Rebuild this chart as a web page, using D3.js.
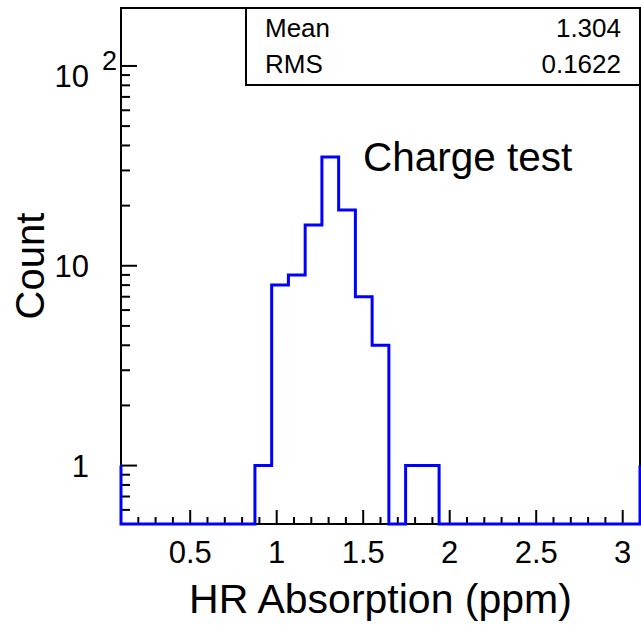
<!DOCTYPE html>
<html>
<head>
<meta charset="utf-8">
<script src="https://cdn.jsdelivr.net/npm/d3@7"></script>
<style>
  body { margin: 0; background: #fff; }
  svg text { font-family: "Liberation Sans", Arial, Helvetica, sans-serif; fill: #000; }
</style>
</head>
<body>
<svg id="chart" width="641" height="627"></svg>
<script>
// histogram: 31 bins from 0.1 to 3.1
var xMin = 0.1;
var xMax = 3.1;
var counts = [0, 0, 0, 0, 0, 0, 0, 0,
              1, 8, 9, 16, 35, 19, 7, 4, 0, 1, 1,
              0, 0, 0, 0, 0, 0, 0, 0, 0, 0, 0, 0];
var edgeLevel = 1;   // the outline starts and ends at this height

// y axis limits (log)
var yMin = 0.51;
var yMax = 195;

var xMajorTicks = [0.5, 1, 1.5, 2, 2.5, 3];
var xTickLabels = ["0.5", "1", "1.5", "2", "2.5", "3"];
var yMajorTicks = [1, 10, 100];

var statLabels = ["Mean", "RMS"];
var statValues = ["1.304", "0.1622"];

var xTitle = "HR Absorption (ppm)";
var yTitle = "Count";
var note = "Charge test";

var frame = { left: 121, top: 8, right: 640, bottom: 524 };

var svg = d3.select("#chart");

var x = d3.scaleLinear().domain([xMin, xMax]).range([frame.left, frame.right]);
var y = d3.scaleLog().domain([yMin, yMax]).range([frame.bottom, frame.top]);

// frame
svg.append("rect")
	.attr("x", frame.left).attr("y", frame.top)
	.attr("width", frame.right - frame.left)
	.attr("height", frame.bottom - frame.top)
	.attr("fill", "none").attr("stroke", "#000").attr("stroke-width", 2);

// x ticks, pointing inward
var xMinor = d3.range(2, 32).map(function(k){ return k / 10; });
svg.append("g").selectAll("line").data(xMinor).enter().append("line")
	.attr("x1", function(d){ return x(d); })
	.attr("x2", function(d){ return x(d); })
	.attr("y1", frame.bottom)
	.attr("y2", function(d){
		var isMajor = xMajorTicks.some(function(m){ return Math.abs(m - d) < 1e-6; });
		return frame.bottom - (isMajor ? 14 : 7);
	})
	.attr("stroke", "#000").attr("stroke-width", 2);

svg.append("g").selectAll("text").data(xMajorTicks).enter().append("text")
	.attr("x", function(d){ return x(d); })
	.attr("y", 563)
	.attr("text-anchor", "middle")
	.attr("font-size", 31)
	.text(function(d, i){ return xTickLabels[i]; });

// y ticks (log), pointing inward
var yMinor = [];
[0.1, 1, 10, 100].forEach(function(dec){
	for (var m = 1; m <= 9; m++) {
		var v = dec * m;
		if (v >= yMin && v <= yMax) yMinor.push(v);
	}
});
svg.append("g").selectAll("line").data(yMinor).enter().append("line")
	.attr("x1", frame.left)
	.attr("x2", function(d){
		return frame.left + (yMajorTicks.indexOf(d) >= 0 ? 16 : 9);
	})
	.attr("y1", function(d){ return y(d); })
	.attr("y2", function(d){ return y(d); })
	.attr("stroke", "#000").attr("stroke-width", 2);

svg.append("text").attr("x", 89).attr("y", y(1) + 11)
	.attr("text-anchor", "end").attr("font-size", 31).text("1");
svg.append("text").attr("x", 89).attr("y", y(10) + 11)
	.attr("text-anchor", "end").attr("font-size", 31).text("10");
svg.append("text").attr("x", 89).attr("y", y(100) + 21)
	.attr("text-anchor", "end").attr("font-size", 31).text("10");
svg.append("text").attr("x", 102).attr("y", y(100) + 4)
	.attr("font-size", 27).text("2");

// histogram outline
var pts = [[xMin, edgeLevel], [xMin, yMin]];
var w = (xMax - xMin) / counts.length;
counts.forEach(function(c, i){
	var v = Math.max(c, yMin);
	pts.push([xMin + i * w, v]);
	pts.push([xMin + (i + 1) * w, v]);
});
pts.push([xMax, yMin]);
pts.push([xMax, edgeLevel]);

var line = d3.line()
	.x(function(d){ return x(d[0]); })
	.y(function(d){ return y(d[1]); });

svg.append("path")
	.attr("d", line(pts))
	.attr("fill", "none")
	.attr("stroke", "#0000ff")
	.attr("stroke-width", 3)
	.attr("stroke-linejoin", "miter");

// stats box
svg.append("rect")
	.attr("x", 246).attr("y", frame.top)
	.attr("width", frame.right - 246).attr("height", 85 - frame.top)
	.attr("fill", "#fff").attr("stroke", "#000").attr("stroke-width", 2);

statLabels.forEach(function(lab, i){
	var by = 37 + i * 36;
	svg.append("text").attr("x", 265).attr("y", by)
		.attr("font-size", 26).text(lab);
	svg.append("text").attr("x", 621).attr("y", by)
		.attr("text-anchor", "end").attr("font-size", 26).text(statValues[i]);
});

// note
svg.append("text").attr("x", 363).attr("y", 171)
	.attr("font-size", 40.5).text(note);

// axis titles
svg.append("text")
	.attr("x", (frame.left + frame.right) / 2).attr("y", 613)
	.attr("text-anchor", "middle").attr("font-size", 41)
	.text(xTitle);

svg.append("text")
	.attr("transform", "translate(44," + ((frame.top + frame.bottom) / 2) + ") rotate(-90)")
	.attr("text-anchor", "middle").attr("font-size", 40)
	.text(yTitle);
</script>
</body>
</html>
